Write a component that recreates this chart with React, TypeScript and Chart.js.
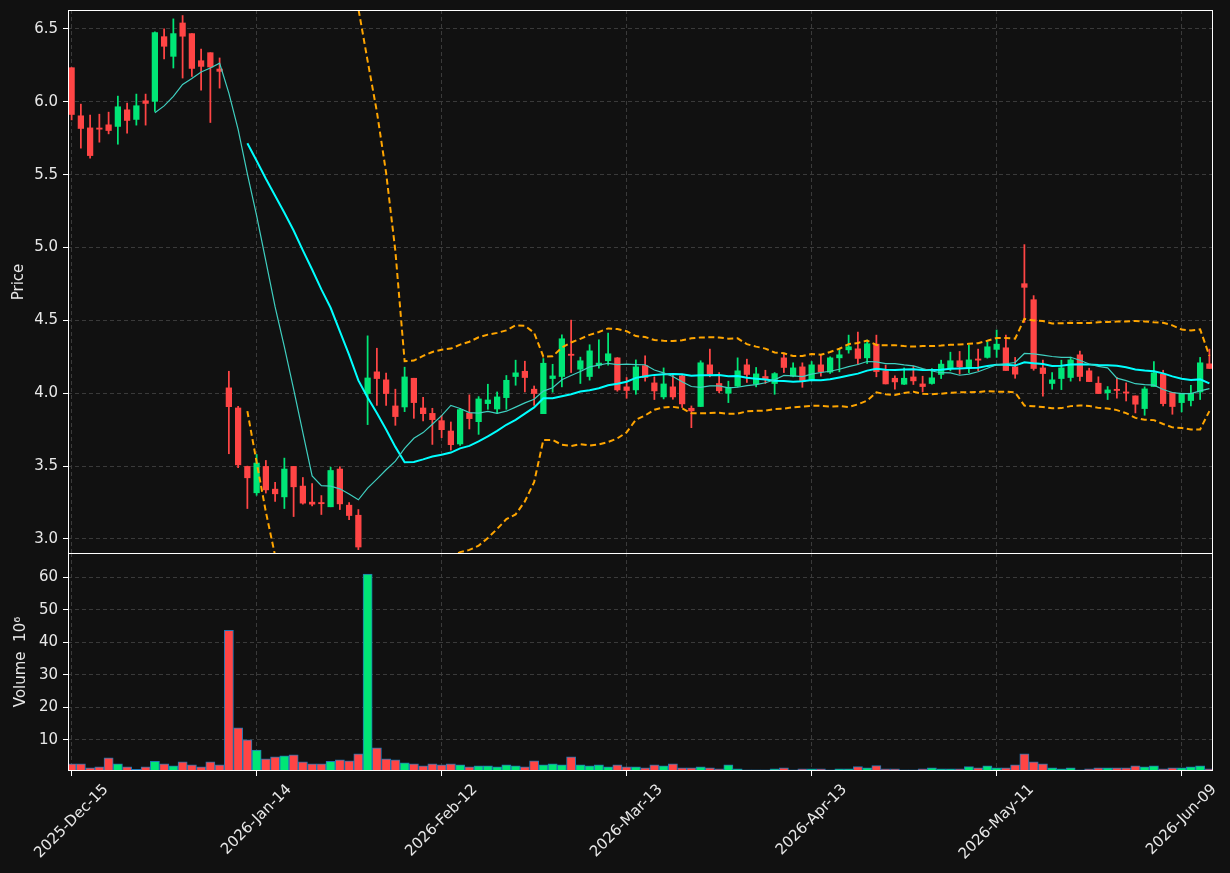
import React, { useEffect, useRef } from "react";
import { Chart, registerables } from "chart.js";
Chart.register(...registerables);

const opens = [
  6.234, 5.904, 5.821, 5.818, 5.842, 5.831, 5.945, 5.879, 6.007, 6.003,
  6.447, 6.312, 6.541, 6.468, 6.282, 6.337, 6.225, 4.037, 3.899, 3.498,
  3.317, 3.498, 3.342, 3.289, 3.498, 3.363, 3.253, 3.245, 3.221, 3.480,
  3.232, 3.163, 3.998, 4.147, 4.092, 3.913, 3.906, 4.103, 3.899, 3.862,
  3.812, 3.741, 3.652, 3.865, 3.805, 3.929, 3.892, 3.970, 4.115, 4.151,
  4.028, 3.860, 4.101, 4.115, 4.264, 4.165, 4.115, 4.193, 4.223, 4.243,
  4.044, 4.023, 4.190, 4.071, 3.975, 4.044, 4.119, 3.897, 3.909, 4.195,
  4.067, 4.000, 4.048, 4.195, 4.064, 4.115, 4.067, 4.243, 4.117, 4.181,
  4.092, 4.195, 4.145, 4.243, 4.298, 4.305, 4.243, 4.337, 4.154, 4.103,
  4.062, 4.112, 4.064, 4.067, 4.129, 4.172, 4.223, 4.177, 4.231, 4.246,
  4.301, 4.312, 4.181, 4.752, 4.642, 4.174, 4.067, 4.101, 4.108, 4.264,
  4.154, 4.069, 4.003, 4.022, 4.004, 3.982, 3.895, 4.046, 4.131, 4.005,
  3.936, 3.950, 4.009, 4.202,
];
const highs = [
  6.234, 5.984, 5.909, 5.915, 5.929, 6.039, 5.991, 6.053, 6.053, 6.480,
  6.500, 6.569, 6.592, 6.468, 6.362, 6.337, 6.301, 4.151, 3.911, 3.500,
  3.580, 3.539, 3.388, 3.555, 3.498, 3.422, 3.381, 3.298, 3.493, 3.496,
  3.250, 3.202, 4.394, 4.309, 4.138, 4.028, 4.179, 4.103, 3.972, 3.897,
  3.849, 3.803, 3.897, 3.989, 3.977, 4.062, 4.009, 4.122, 4.227, 4.220,
  4.050, 4.238, 4.199, 4.401, 4.502, 4.248, 4.333, 4.367, 4.413, 4.245,
  4.108, 4.229, 4.257, 4.113, 4.174, 4.131, 4.130, 3.913, 4.223, 4.303,
  4.142, 4.083, 4.243, 4.234, 4.177, 4.158, 4.142, 4.275, 4.209, 4.209,
  4.218, 4.262, 4.250, 4.301, 4.399, 4.420, 4.365, 4.399, 4.193, 4.119,
  4.174, 4.186, 4.117, 4.170, 4.227, 4.282, 4.287, 4.330, 4.303, 4.353,
  4.434, 4.399, 4.246, 5.020, 4.670, 4.227, 4.142, 4.227, 4.248, 4.289,
  4.172, 4.113, 4.046, 4.110, 4.071, 3.982, 4.044, 4.218, 4.158, 4.005,
  4.000, 4.055, 4.246, 4.303,
];
const lows = [
  5.876, 5.682, 5.613, 5.723, 5.780, 5.709, 5.785, 5.840, 5.840, 5.934,
  6.294, 6.232, 6.163, 6.174, 6.080, 5.858, 6.094, 3.585, 3.489, 3.209,
  3.300, 3.315, 3.257, 3.209, 3.154, 3.239, 3.227, 3.168, 3.221, 3.202,
  3.133, 2.927, 3.785, 3.917, 3.917, 3.780, 3.874, 3.828, 3.810, 3.649,
  3.695, 3.610, 3.642, 3.755, 3.718, 3.890, 3.862, 3.890, 4.055, 4.009,
  3.917, 3.860, 4.007, 4.044, 4.142, 4.067, 4.090, 4.172, 4.193, 4.014,
  3.966, 3.993, 4.083, 3.957, 3.961, 3.959, 3.902, 3.764, 3.909, 4.113,
  4.003, 3.936, 4.044, 4.074, 4.044, 4.067, 3.993, 4.142, 4.113, 4.041,
  4.085, 4.117, 4.136, 4.147, 4.275, 4.200, 4.204, 4.113, 4.064, 4.028,
  4.060, 4.060, 4.009, 4.062, 4.101, 4.154, 4.131, 4.142, 4.154, 4.241,
  4.246, 4.156, 4.103, 4.486, 4.158, 3.980, 4.028, 4.025, 4.083, 4.085,
  4.080, 3.998, 3.957, 3.966, 3.947, 3.865, 3.849, 4.046, 3.913, 3.856,
  3.872, 3.913, 3.957, 4.170,
];
const closes = [
  5.913, 5.817, 5.631, 5.812, 5.803, 5.966, 5.872, 5.973, 5.989, 6.475,
  6.381, 6.468, 6.450, 6.229, 6.243, 6.239, 6.209, 3.908, 3.509, 3.420,
  3.521, 3.337, 3.310, 3.480, 3.358, 3.246, 3.239, 3.242, 3.470, 3.241,
  3.161, 2.945, 4.105, 4.101, 3.998, 3.840, 4.112, 3.936, 3.860, 3.819,
  3.750, 3.647, 3.888, 3.826, 3.961, 3.954, 3.975, 4.089, 4.140, 4.108,
  3.998, 4.206, 4.119, 4.374, 4.260, 4.223, 4.291, 4.207, 4.271, 4.023,
  4.019, 4.181, 4.108, 4.016, 4.064, 3.975, 3.927, 3.879, 4.209, 4.131,
  4.017, 4.041, 4.154, 4.129, 4.133, 4.099, 4.135, 4.177, 4.174, 4.080,
  4.195, 4.147, 4.243, 4.264, 4.319, 4.239, 4.340, 4.149, 4.064, 4.078,
  4.103, 4.085, 4.046, 4.106, 4.200, 4.223, 4.181, 4.229, 4.227, 4.319,
  4.337, 4.156, 4.131, 4.727, 4.170, 4.135, 4.092, 4.174, 4.229, 4.115,
  4.080, 3.998, 4.023, 4.019, 4.001, 3.925, 4.030, 4.140, 3.929, 3.909,
  4.000, 4.000, 4.209, 4.170,
];
// volume in millions
const volumes = [
  2.58, 2.58, 1.35, 1.66, 4.43, 2.58, 1.66, 0.94, 1.66, 3.41,
  2.58, 1.97, 3.20, 2.27, 1.66, 3.20, 2.27, 43.6, 13.69, 9.99,
  6.80, 4.13, 4.74, 5.05, 5.36, 3.20, 2.58, 2.58, 3.41, 3.82,
  3.51, 5.67, 60.9, 7.52, 4.13, 3.82, 2.89, 2.58, 1.97, 2.58,
  2.27, 2.58, 2.27, 1.66, 1.97, 1.97, 1.66, 2.27, 1.97, 1.66,
  3.51, 2.27, 2.58, 2.27, 4.74, 2.27, 1.97, 2.27, 1.66, 2.27,
  1.66, 1.66, 1.35, 2.27, 1.97, 2.58, 1.35, 1.35, 1.66, 1.35,
  1.04, 2.27, 1.04, 0.73, 0.73, 0.73, 1.04, 1.35, 0.73, 1.04,
  1.04, 1.04, 0.73, 1.04, 1.04, 1.76, 1.35, 2.06, 1.04, 1.04,
  0.73, 0.73, 1.04, 1.35, 1.04, 1.04, 1.04, 1.76, 1.35, 1.97,
  1.35, 1.35, 2.27, 5.67, 3.20, 2.58, 1.35, 1.04, 1.35, 0.73,
  1.04, 1.35, 1.35, 1.35, 1.35, 1.97, 1.66, 1.97, 1.04, 1.35,
  1.35, 1.66, 1.97, 1.04,
];
const tickIndex = [0, 20, 40, 60, 80, 100, 120];
const tickLabels = [
  "2025-Dec-15",
  "2026-Jan-14",
  "2026-Feb-12",
  "2026-Mar-13",
  "2026-Apr-13",
  "2026-May-11",
  "2026-Jun-09",
];

const UP = "#00e676";
const DOWN = "#ff4545";
const BG = "#111111";
const GRID = "#3a3a3a";
const TXT = "#e8e8e8";
const FONT = "'DejaVu Sans', sans-serif";
const FS = 15;

function sma(arr: number[], n: number) {
  return arr.map((_, i) => {
    if (i < n - 1) return null;
    let s = 0;
    for (let k = i - n + 1; k <= i; k++) s += arr[k];
    return s / n;
  });
}
function rstd(arr: number[], n: number) {
  return arr.map((_, i) => {
    if (i < n - 1) return null;
    const w = arr.slice(i - n + 1, i + 1);
    const m = w.reduce((a, b) => a + b, 0) / n;
    return Math.sqrt(w.reduce((a, b) => a + (b - m) * (b - m), 0) / n);
  });
}

const XMIN = -0.39;
const XMAX = 123.39;

const framePlugin = {
  id: "frame",
  afterDraw(chart: any) {
    const { ctx, chartArea: a } = chart;
    ctx.save();
    ctx.strokeStyle = "#ffffff";
    ctx.lineWidth = 1;
    ctx.strokeRect(
      Math.round(a.left) + 0.5,
      Math.round(a.top) + 0.5,
      Math.round(a.right - a.left) - 1,
      Math.round(a.bottom - a.top) - 1
    );
    ctx.restore();
  },
};

const xLabelPlugin = {
  id: "xlabels",
  afterDraw(chart: any) {
    const { ctx, chartArea: a } = chart;
    const xs = chart.scales.x;
    ctx.save();
    ctx.font = `${FS}px ${FONT}`;
    ctx.fillStyle = TXT;
    ctx.textAlign = "center";
    ctx.textBaseline = "middle";
    const top = a.bottom + 5 + 5;
    tickIndex.forEach((v, k) => {
      const t = tickLabels[k];
      const px = xs.getPixelForValue(v);
      const w = ctx.measureText(t).width;
      const h = FS * 1.16;
      const d = (w + h) * Math.SQRT1_2;
      ctx.save();
      ctx.translate(px, top + d / 2);
      ctx.rotate(-Math.PI / 4);
      ctx.fillText(t, 0, 0);
      ctx.restore();
    });
    ctx.restore();
  },
};

export default function App() {
  const ref1 = useRef<HTMLCanvasElement>(null);
  const ref2 = useRef<HTMLCanvasElement>(null);

  useEffect(() => {
    document.body.style.background = BG;
    const idx = closes.map((_, i) => i);
    const colors = idx.map((i) => (closes[i] >= opens[i] ? UP : DOWN));
    const ma10 = sma(closes, 10);
    const ma20 = sma(closes, 20);
    const sd20 = rstd(closes, 20);
    const upper = ma20.map((m, i) => (m === null ? null : m + 2 * (sd20[i] as number)));
    const lower = ma20.map((m, i) => (m === null ? null : m - 2 * (sd20[i] as number)));

    const xScale = (extra: any) => ({
      type: "linear",
      min: XMIN,
      max: XMAX,
      offset: false,
      afterBuildTicks: (s: any) => {
        s.ticks = tickIndex.map((v) => ({ value: v }));
      },
      ticks: { display: false },
      border: { display: false, dash: [4, 3] },
      ...extra,
    });
    const yCommon = {
      position: "left",
      afterFit: (s: any) => {
        s.width = 68;
      },
      border: { display: false, dash: [4, 3] },
      grid: { color: GRID, lineWidth: 1, tickColor: "#ffffff", tickLength: 5, tickWidth: 1 },
    };

    const c1 = new Chart(ref1.current as HTMLCanvasElement, {
      type: "line",
      data: {
        datasets: [
          {
            type: "line",
            label: "SMA10",
            data: idx.map((i) => ({ x: i, y: ma10[i] })),
            borderColor: "#3fcfc0",
            borderWidth: 1.2,
            pointRadius: 0,
            tension: 0,
            order: 0,
          },
          {
            type: "line",
            label: "SMA20",
            data: idx.map((i) => ({ x: i, y: ma20[i] })),
            borderColor: "#00ffff",
            borderWidth: 2,
            pointRadius: 0,
            tension: 0,
            order: 0,
          },
          {
            type: "line",
            label: "BB upper",
            data: idx.map((i) => ({ x: i, y: upper[i] })),
            borderColor: "#ffa500",
            borderWidth: 2,
            borderDash: [6, 3.5],
            pointRadius: 0,
            tension: 0,
            order: 0,
          },
          {
            type: "line",
            label: "BB lower",
            data: idx.map((i) => ({ x: i, y: lower[i] })),
            borderColor: "#ffa500",
            borderWidth: 2,
            borderDash: [6, 3.5],
            pointRadius: 0,
            tension: 0,
            order: 0,
          },
          {
            type: "bar",
            label: "body",
            data: idx.map((i) => ({ x: i, y: [opens[i], closes[i]] })),
            backgroundColor: colors,
            barThickness: 5.6,
            minBarLength: 1.2,
            grouped: false,
            order: 1,
          },
          {
            type: "bar",
            label: "wick",
            data: idx.map((i) => ({ x: i, y: [lows[i], highs[i]] })),
            backgroundColor: colors,
            barThickness: 1.1,
            grouped: false,
            order: 2,
          },
        ],
      } as any,
      options: {
        responsive: false,
        maintainAspectRatio: false,
        animation: false,
        events: [],
        layout: { padding: { left: 0, right: 17, top: 10, bottom: 3 } },
        plugins: { legend: { display: false }, tooltip: { enabled: false } },
        scales: {
          x: xScale({
            grid: { color: GRID, lineWidth: 1, drawTicks: false, offset: false },
            afterFit: (s: any) => {
              s.height = 0;
            },
          }),
          y: {
            ...yCommon,
            type: "linear",
            min: 2.897,
            max: 6.63,
            ticks: {
              stepSize: 0.5,
              includeBounds: false,
              color: TXT,
              padding: 5,
              font: { family: FONT, size: FS },
              callback: (v: any) => Number(v).toFixed(1),
            },
            title: {
              display: true,
              text: "Price",
              color: TXT,
              font: { family: FONT, size: FS },
              padding: { top: 10, bottom: 0 },
            },
          },
        },
      } as any,
      plugins: [framePlugin],
    });

    const c2 = new Chart(ref2.current as HTMLCanvasElement, {
      type: "line",
      data: {
        datasets: [
          {
            type: "bar",
            label: "Volume",
            data: idx.map((i) => ({ x: i, y: volumes[i] })),
            backgroundColor: colors,
            borderColor: "#1f77b4",
            borderWidth: 1,
            borderSkipped: false,
            barThickness: 9.2,
            grouped: false,
          },
        ],
      } as any,
      options: {
        responsive: false,
        maintainAspectRatio: false,
        animation: false,
        events: [],
        layout: { padding: { left: 0, right: 17, top: 3, bottom: 0 } },
        plugins: { legend: { display: false }, tooltip: { enabled: false } },
        scales: {
          x: xScale({
            grid: {
              color: GRID,
              lineWidth: 1,
              drawTicks: true,
              offset: false,
              tickColor: "#ffffff",
              tickLength: 5,
              tickWidth: 1,
            },
            afterFit: (s: any) => {
              s.height = 103;
            },
          }),
          y: {
            ...yCommon,
            type: "linear",
            min: 0.4,
            max: 67.4,
            beginAtZero: false,
            ticks: {
              stepSize: 10,
              includeBounds: false,
              color: TXT,
              padding: 5,
              font: { family: FONT, size: FS },
              callback: (v: any) => String(Math.round(Number(v))),
            },
            title: {
              display: true,
              text: "Volume  10⁶",
              color: TXT,
              font: { family: FONT, size: FS },
              padding: { top: 12, bottom: 0 },
            },
          },
        },
      } as any,
      plugins: [framePlugin, xLabelPlugin],
    });

    return () => {
      c1.destroy();
      c2.destroy();
    };
  }, []);

  return (
    <div
      style={{
        position: "absolute",
        left: 0,
        top: 0,
        width: 1230,
        height: 873,
        background: BG,
        overflow: "hidden",
      }}
    >
      <canvas
        ref={ref1}
        width={1230}
        height={572}
        style={{ position: "absolute", left: 0, top: -4, width: 1230, height: 572 }}
      />
      <canvas
        ref={ref2}
        width={1230}
        height={335}
        style={{ position: "absolute", left: 0, top: 539, width: 1230, height: 335 }}
      />
    </div>
  );
}
